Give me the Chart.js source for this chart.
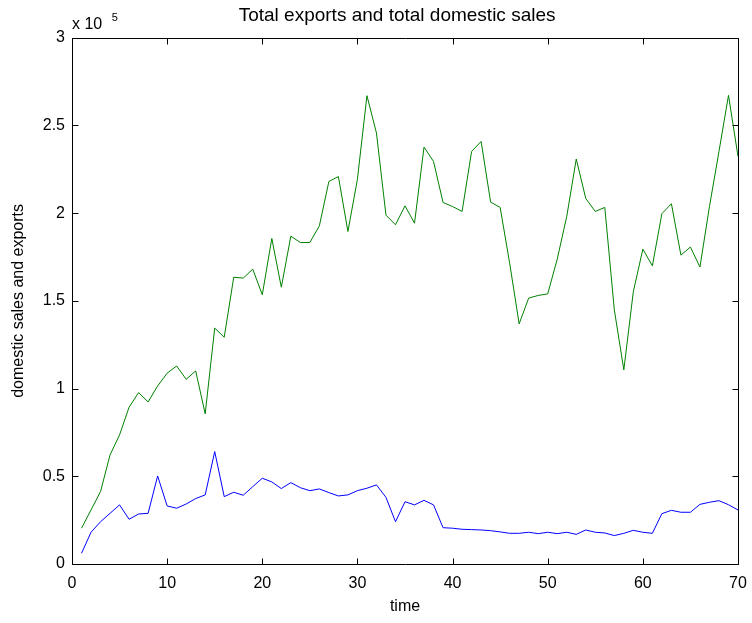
<!DOCTYPE html>
<html>
<head>
<meta charset="utf-8">
<script src="https://cdn.jsdelivr.net/npm/chart.js@4"></script>
<style>
html,body{margin:0;padding:0;background:#fff;}
canvas{display:block;}
</style>
</head>
<body>
<canvas id="c" width="752" height="623"></canvas>
<script>
const time = [1,2,3,4,5,6,7,8,9,10,11,12,13,14,15,16,17,18,19,20,21,22,23,24,25,26,27,28,29,30,31,32,33,34,35,36,37,38,39,40,41,42,43,44,45,46,47,48,49,50,51,52,53,54,55,56,57,58,59,60,61,62,63,64,65,66,67,68,69,70];
const domesticSales = [20400,30800,41300,62200,73600,89400,97700,92400,101500,108800,112900,105300,110100,85600,134500,129300,163500,163000,168100,153500,185600,157800,186900,183300,183300,192800,218100,220900,189600,219400,267000,245700,198900,193400,204200,194300,237700,229500,206100,203800,201000,235200,240900,206300,203300,171500,136900,151600,153100,154000,173800,198100,230900,208400,201000,203300,144900,110700,155300,179500,170000,199700,205400,176100,180700,169300,203800,235200,267200,232400];
const exports = [6100,18100,24100,28900,33700,25500,28500,28900,50200,33100,31800,34200,37300,39400,64100,38400,40900,39200,44100,48900,46800,43000,46400,43500,41800,42800,40700,38800,39400,41800,43200,45100,38000,24100,35500,33700,36300,33700,20700,20400,19800,19600,19400,19000,18300,17500,17500,18100,17300,18100,17300,18100,16900,19400,18100,17700,16200,17500,19200,18100,17500,28700,30600,29500,29500,34000,35200,36100,33800,30800];
const xTicks = [0,10,20,30,40,50,60,70];
const yTicks = [0,50000,100000,150000,200000,250000,300000];
const titleText = 'Total exports and total domestic sales';
const xLabel = 'time';
const yLabel = 'domestic sales and exports';
const exponentText = 'x 10';
const exponentPower = '5';

const FONT = "'Liberation Sans', Arial, Helvetica, sans-serif";
Chart.defaults.font.family = FONT;
Chart.defaults.color = '#000';

const boxPlugin = {
  id: 'matlabBox',
  afterDatasetsDraw(chart) {
    const ctx = chart.ctx;
    const a = chart.chartArea;
    const xs = chart.scales.x, ys = chart.scales.y;
    const L = Math.round(a.left) + 0.5, R = Math.round(a.right) + 0.5;
    const T = Math.round(a.top) + 0.5, B = Math.round(a.bottom) + 0.5;
    const tl = 6;
    ctx.save();
    ctx.strokeStyle = '#000';
    ctx.lineWidth = 1;
    ctx.beginPath();
    ctx.rect(L, T, R - L, B - T);
    xs.ticks.forEach(t => {
      const p = Math.round(xs.getPixelForValue(t.value)) + 0.5;
      ctx.moveTo(p, B); ctx.lineTo(p, B - tl);
      ctx.moveTo(p, T); ctx.lineTo(p, T + tl);
    });
    ys.ticks.forEach(t => {
      const p = Math.round(ys.getPixelForValue(t.value)) + 0.5;
      ctx.moveTo(L, p); ctx.lineTo(L + tl, p);
      ctx.moveTo(R, p); ctx.lineTo(R - tl, p);
    });
    ctx.stroke();
    // exponent label
    ctx.fillStyle = '#000';
    ctx.textAlign = 'left';
    ctx.textBaseline = 'alphabetic';
    ctx.font = '16px ' + FONT;
    ctx.fillText(exponentText, a.left, a.top - 9);
    const w = ctx.measureText(exponentText + ' ').width;
    ctx.font = '11px ' + FONT;
    ctx.fillText(exponentPower, a.left + w + 5, a.top - 17);
    ctx.restore();
  }
};

new Chart(document.getElementById('c'), {
  type: 'line',
  data: {
    datasets: [
      {
        label: 'domestic sales',
        data: time.map((t, i) => ({x: t, y: domesticSales[i]})),
        borderColor: '#008000',
        borderWidth: 1,
        pointRadius: 0,
        tension: 0,
        fill: false
      },
      {
        label: 'exports',
        data: time.map((t, i) => ({x: t, y: exports[i]})),
        borderColor: '#0000ff',
        borderWidth: 1,
        pointRadius: 0,
        tension: 0,
        fill: false
      }
    ]
  },
  options: {
    responsive: false,
    animation: false,
    devicePixelRatio: 1,
    layout: { padding: { left: 0, right: 14, top: 0, bottom: 0 } },
    plugins: {
      legend: { display: false },
      tooltip: { enabled: false },
      title: {
        display: true,
        fullSize: false,
        text: titleText + '\u00a0\u00a0\u00a0',
        color: '#000',
        font: { size: 19, weight: 'normal', family: FONT },
        padding: { top: 4, bottom: 11 }
      }
    },
    scales: {
      x: {
        type: 'linear',
        min: 0, max: 70,
        afterBuildTicks(scale) { scale.ticks = xTicks.map(v => ({value: v})); },
        afterFit(scale) { scale.height = 59; scale.paddingRight = 0; scale.paddingLeft = 0; },
        grid: { display: false, drawTicks: false },
        border: { display: false },
        ticks: { font: { size: 16 }, padding: 10, color: '#000', maxRotation: 0 },
        title: { display: true, text: xLabel, font: { size: 16 }, color: '#000', padding: { top: 7, bottom: 7 } }
      },
      y: {
        type: 'linear',
        min: 0, max: 300000,
        afterBuildTicks(scale) { scale.ticks = yTicks.map(v => ({value: v})); },
        afterFit(scale) { scale.width = 72; },
        grid: { display: false, drawTicks: false },
        border: { display: false },
        ticks: { font: { size: 16 }, padding: 7, color: '#000', callback: v => String(v / 100000) },
        title: { display: true, text: yLabel, font: { size: 16 }, color: '#000', padding: { top: 9, bottom: 9 } }
      }
    }
  },
  plugins: [boxPlugin]
});
</script>
</body>
</html>
